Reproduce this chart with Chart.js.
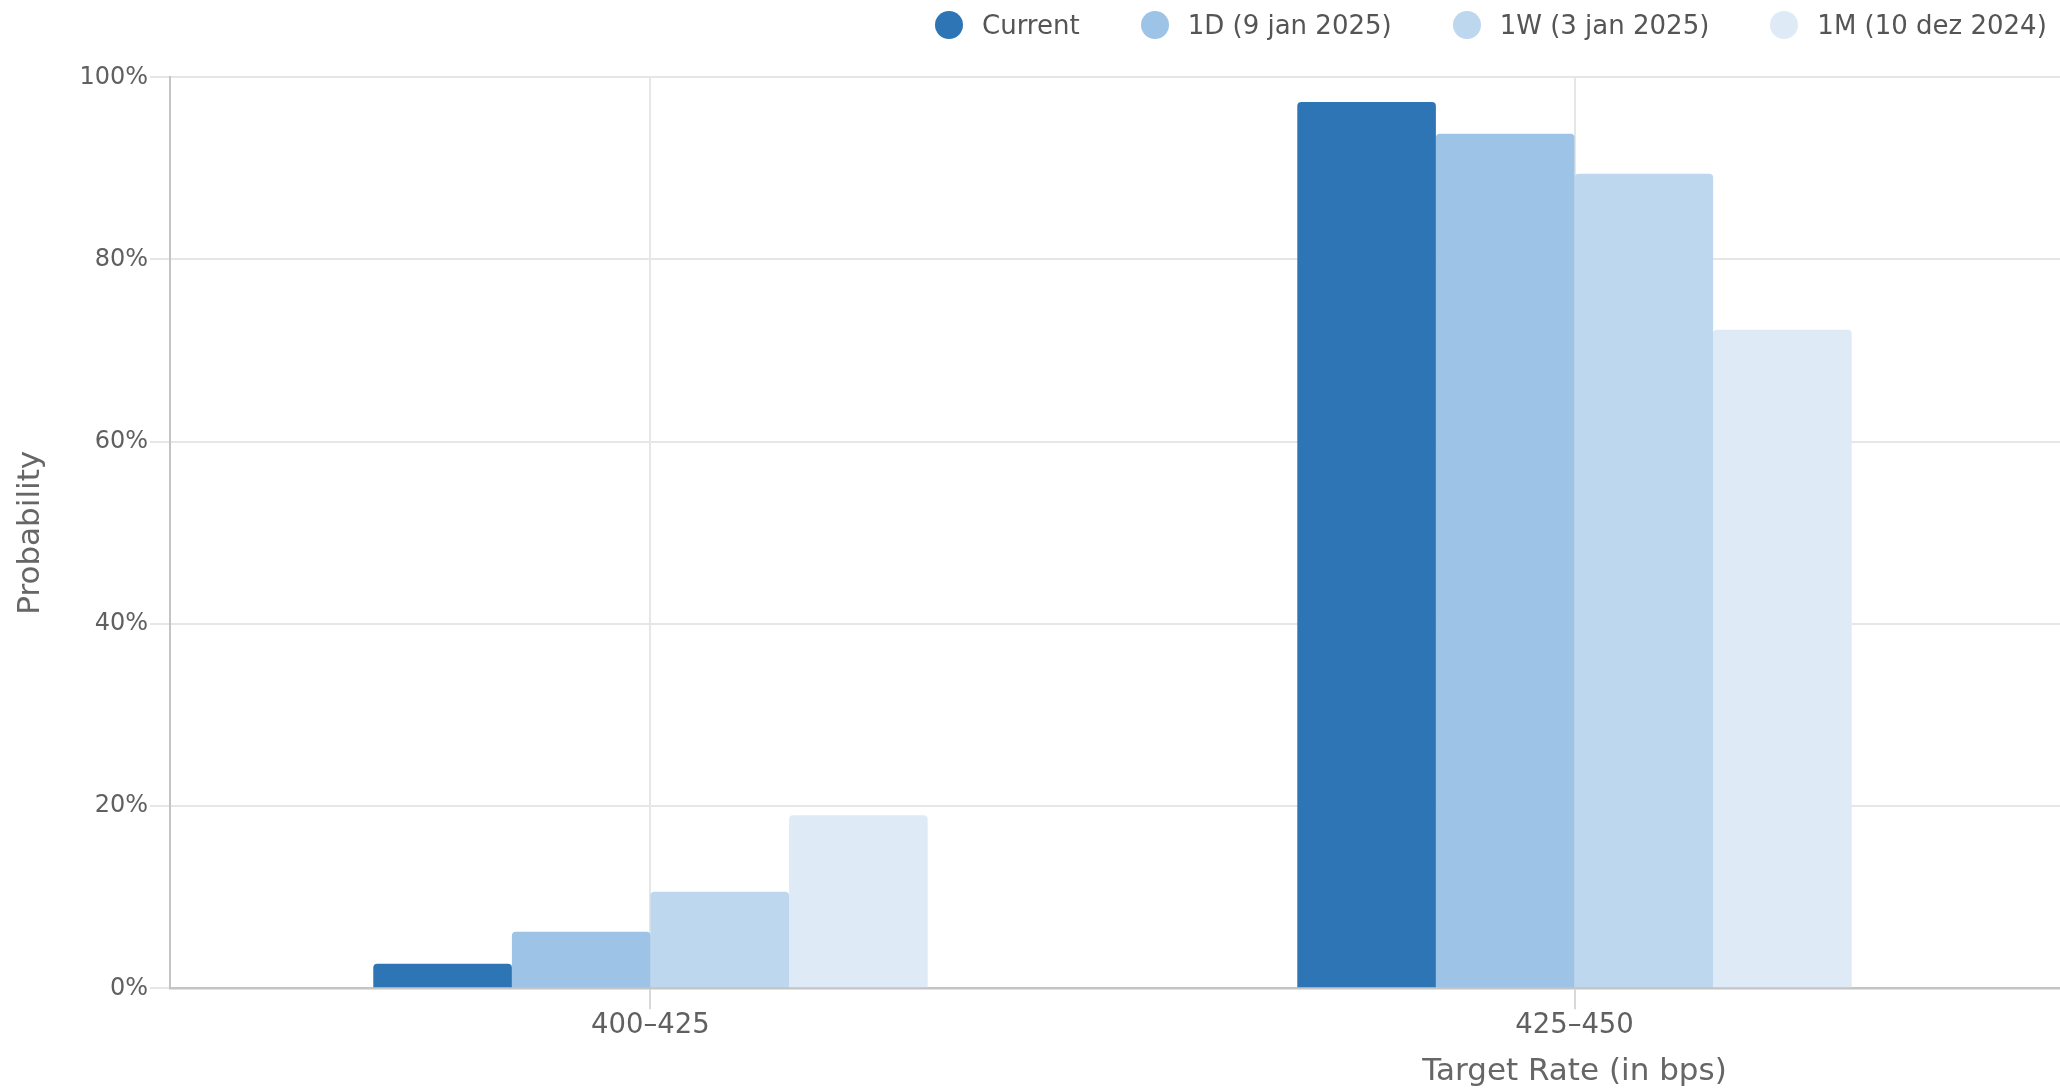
<!DOCTYPE html>
<html lang="en">
<head>
    <meta charset="UTF-8">
    <title>Target Rate Probabilities</title>
    <script src="https://cdn.jsdelivr.net/npm/chart.js"></script>
    <style>
        html, body { margin: 0; padding: 0; background: #fff; overflow: hidden; }
        #wrap { position: relative; width: 2980px; height: 1091px; }
        #legend {
            position: absolute; left: 935px; top: 11px;
            display: flex; align-items: center;
            font-family: 'DejaVu Sans', sans-serif; font-size: 26px; color: #555;
            white-space: nowrap;
        }
        #legend .item { display: flex; align-items: center; margin-right: 61px; height: 28px; }
        #legend .dot { width: 28px; height: 28px; border-radius: 50%; margin-right: 19px; }
    </style>
</head>
<body>
    <div id="wrap">
        <canvas id="ratechart"></canvas>
        <div id="legend"></div>
    </div>
    <script>
        // Chart data
        const categories = ['400–425', '425–450'];
        const seriesNames = ['Current', '1D (9 jan 2025)', '1W (3 jan 2025)', '1M (10 dez 2024)'];
        const currentValues = [2.7, 97.3];
        const oneDayValues = [6.2, 93.8];
        const oneWeekValues = [10.6, 89.4];
        const oneMonthValues = [19.0, 72.3];
        const yTicks = [0, 20, 40, 60, 80, 100];

        const seriesValues = [currentValues, oneDayValues, oneWeekValues, oneMonthValues];
        const seriesColors = ['#2E75B6', '#9DC3E6', '#BDD7EE', '#DEEBF7'];

        Chart.defaults.font.family = "'DejaVu Sans', sans-serif";
        Chart.defaults.color = '#606060';

        const datasets = seriesNames.map((name, s) => ({
            label: name,
            data: categories.map((c, i) => ({ x: i, y: seriesValues[s][i] })),
            backgroundColor: seriesColors[s],
            borderRadius: 4,
            categoryPercentage: 0.6,
            barPercentage: 1.0
        }));

        const ctx = document.getElementById('ratechart').getContext('2d');
        const myChart = new Chart(ctx, {
            type: 'bar',
            data: { datasets: datasets },
            options: {
                responsive: true,
                maintainAspectRatio: false,
                animation: false,
                layout: { padding: { top: 77.3, right: 1, left: 0, bottom: 0 } },
                plugins: {
                    legend: { display: false }, // drawn as html below
                    tooltip: { enabled: false }
                },
                scales: {
                    x: {
                        type: 'linear',
                        min: -0.52,
                        max: 2.52,
                        offset: false,
                        afterBuildTicks: (scale) => {
                            scale.ticks = categories.map((c, i) => ({ value: i }));
                        },
                        ticks: {
                            font: { size: 27.5 },
                            color: '#606060',
                            padding: 0,
                            maxRotation: 0,
                            callback: (value) => categories[value]
                        },
                        grid: {
                            offset: false,
                            color: '#e6e6e6',
                            lineWidth: 2,
                            tickLength: 21,
                            tickColor: '#d8d8d8'
                        },
                        border: { color: '#c4c4c4', width: 2.5 },
                        title: {
                            display: true,
                            text: 'Target Rate (in bps)',
                            font: { size: 31 },
                            color: '#666',
                            padding: { top: 11.5, bottom: 0 }
                        }
                    },
                    y: {
                        min: 0,
                        max: 100,
                        afterBuildTicks: (scale) => {
                            scale.ticks = yTicks.map(v => ({ value: v }));
                        },
                        afterFit: (scale) => { scale.width = 170; },
                        ticks: {
                            font: { size: 24 },
                            color: '#606060',
                            padding: 2,
                            callback: (value) => value + '%'
                        },
                        grid: {
                            color: '#e6e6e6',
                            lineWidth: 2,
                            tickLength: 20
                        },
                        border: { color: '#c4c4c4', width: 2 },
                        title: {
                            display: true,
                            text: 'Probability',
                            font: { size: 31 },
                            color: '#666',
                            padding: { top: 12.5, bottom: 0 }
                        }
                    }
                }
            }
        });

        // Build the legend from the chart's datasets
        const legendEl = document.getElementById('legend');
        myChart.data.datasets.forEach(ds => {
            const item = document.createElement('div');
            item.className = 'item';
            const dot = document.createElement('span');
            dot.className = 'dot';
            dot.style.background = ds.backgroundColor;
            const text = document.createElement('span');
            text.textContent = ds.label;
            item.appendChild(dot);
            item.appendChild(text);
            legendEl.appendChild(item);
        });
    </script>
</body>
</html>
